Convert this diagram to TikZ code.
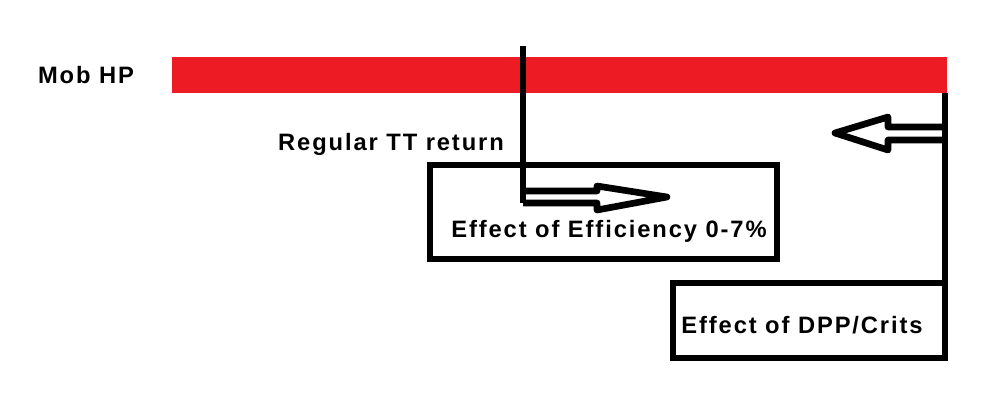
\documentclass[tikz,border=0pt]{standalone}
\usepackage{fontspec}
\newfontfamily\paintfont{Liberation Sans}[LetterSpace=8]
\usepackage{tikz}
\usetikzlibrary{positioning,calc}
\definecolor{hpred}{RGB}{237,28,36}

\tikzset{
  lbl/.style={font=\paintfont\bfseries\fontsize{13.5}{15}\selectfont,inner sep=0pt,anchor=base},
  frame/.style={draw,line width=3.8pt,inner sep=0pt},
  stroke/.style={line width=3.8pt,line join=round},
}

\begin{document}
\begin{tikzpicture}[x=0.02cm,y=-0.02cm]
  \useasboundingbox (0,0) rectangle (988,417);

  % health bar
  \node[lbl] (mob) at (86,83) {Mob HP};
  \fill[hpred] (172,57) rectangle (947,93);
  \coordinate (barend) at (945,93);

  % boxes
  \node[frame,minimum width=347*0.02cm,minimum height=94*0.02cm] (effbox) at (603.5,212) {};
  \node[frame,minimum width=272*0.02cm,minimum height=75*0.02cm] (dppbox) at (809,320.5) {};
  \node[lbl] (efftext) at (609,237) {Effect of Efficiency 0-7\%};
  \node[lbl] (dpptext) at (802,333) {Effect of DPP/Crits};
  \node[lbl] (ttlabel) at (391,150) {Regular TT return};

  % TT return line and arrow to the right
  \coordinate (ttstart) at (523,46);
  \draw[stroke] (ttstart) -- (523,203);
  \draw[stroke] (523,191) -- (597,191) -- (597,186) -- (667,197)
    -- (597,210) -- (597,203) -- (523,203);

  % DPP line and arrow to the left
  \draw[stroke] (barend) -- (barend |- dppbox.north);
  \draw[stroke] (945,127) -- (888,127) -- (888,117) -- (835,133)
    -- (888,150) -- (888,140) -- (945,140);
\end{tikzpicture}
\end{document}
